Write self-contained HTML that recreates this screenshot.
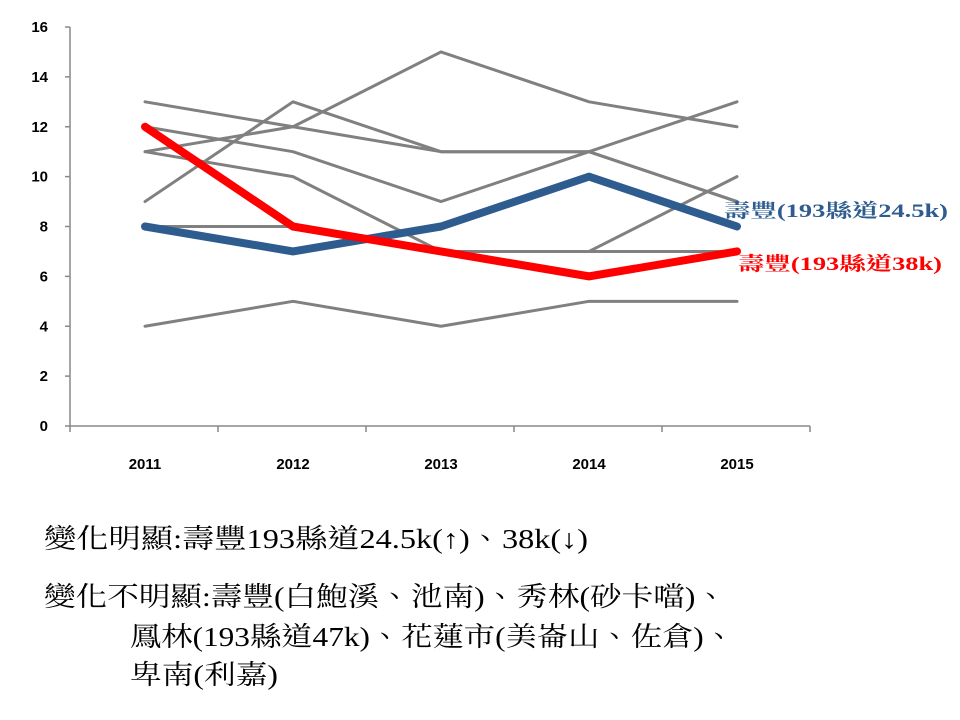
<!DOCTYPE html>
<html><head><meta charset="utf-8">
<style>
html,body{margin:0;padding:0;background:#fff;}
svg{display:block;}
.ser{font-family:"Liberation Serif","Noto Serif CJK TC","Noto Serif CJK SC",serif;}
.ax{font-family:"Liberation Sans",sans-serif;font-weight:bold;font-size:15px;fill:#000;}
</style></head>
<body>
<svg id="chart" width="960" height="720" viewBox="0 0 960 720">
<g id="axes"></g>
<g id="series"></g>
<text class="ser" x="724" y="217" font-size="19" font-weight="bold" fill="#2E5C8F" textLength="224" lengthAdjust="spacingAndGlyphs">壽豐(193縣道24.5k)</text>
<text class="ser" x="738" y="270" font-size="19" font-weight="bold" fill="#FF0000" textLength="204" lengthAdjust="spacingAndGlyphs">壽豐(193縣道38k)</text>
<text class="ser" x="44" y="548" font-size="27" fill="#000" textLength="544" lengthAdjust="spacingAndGlyphs">變化明顯:壽豐193縣道24.5k(↑)、38k(↓)</text>
<text class="ser" x="44" y="606" font-size="27" fill="#000" textLength="683" lengthAdjust="spacingAndGlyphs">變化不明顯:壽豐(白鮑溪、池南)、秀林(砂卡噹)、</text>
<text class="ser" x="130" y="646" font-size="27" fill="#000" textLength="605" lengthAdjust="spacingAndGlyphs">鳳林(193縣道47k)、花蓮市(美崙山、佐倉)、</text>
<text class="ser" x="130" y="684" font-size="27" fill="#000" textLength="148" lengthAdjust="spacingAndGlyphs">卑南(利嘉)</text>
</svg>
<script>
const categories = ["2011","2012","2013","2014","2015"];
const yTicks = [0,2,4,6,8,10,12,14,16];
const grayA = [9,13,11,11,9];
const grayB = [13,12,11,11,13];
const grayC = [11,12,15,13,12];
const grayD = [12,11,9,11,9];
const grayE = [11,10,7,7,10];
const grayF = [8,8,7,7,7];
const grayG = [4,5,4,5,5];
const blueSeries = [8,7,8,10,8];
const redSeries = [12,8,7,6,7];

const NS = "http://www.w3.org/2000/svg";
const y0 = 426, y16 = 27, xLeft = 70, band = 148;
function yScale(v){ return y0 - (v/16)*(y0-y16); }
function xScale(i){ return xLeft + band*i + band/2 + 1; }
function mk(tag, attrs, parent){
  const e = document.createElementNS(NS, tag);
  for (const k in attrs) e.setAttribute(k, attrs[k]);
  parent.appendChild(e); return e;
}
const axes = document.getElementById("axes");
const yAxis = mk("line",{x1:xLeft,y1:y16,x2:xLeft,y2:y0,stroke:"#888","stroke-width":1.5},axes);


const xAxis = mk("line",{x1:xLeft,y1:y0,x2:xLeft+band*5,y2:y0,stroke:"#888","stroke-width":1.5},axes);


yTicks.forEach(v=>{
  const y = yScale(v);
  const t = mk("line",{x1:xLeft-5,y1:y,x2:xLeft,y2:y,stroke:"#888","stroke-width":1.5},axes);
  
  
  const l = mk("text",{x:xLeft-22,y:y+5,"text-anchor":"end",class:"ax"},axes);
  l.textContent = v;
  
  
});
for (let i=0;i<=categories.length;i++){
  const x = xLeft + band*i;
  const t = mk("line",{x1:x,y1:y0,x2:x,y2:y0+6,stroke:"#888","stroke-width":1.5},axes);
  
  
}
categories.forEach((c,i)=>{
  const l = mk("text",{x:xScale(i),y:469,"text-anchor":"middle",class:"ax"},axes);
  l.textContent = c;
  
  
});
const sg = document.getElementById("series");
function drawLine(vals, color, w, name){
  const pts = vals.map((v,i)=>xScale(i)+","+yScale(v)).join(" ");
  const p = mk("polyline",{points:pts,fill:"none",stroke:color,"stroke-width":w,"stroke-linejoin":"round","stroke-linecap":"round"},sg);
  
  
}
drawLine(grayA,"#808080",3,"gray-line-a");
drawLine(grayB,"#808080",3,"gray-line-b");
drawLine(grayC,"#808080",3,"gray-line-c");
drawLine(grayD,"#808080",3,"gray-line-d");
drawLine(grayE,"#808080",3,"gray-line-e");
drawLine(grayF,"#808080",3,"gray-line-f");
drawLine(grayG,"#808080",3,"gray-line-g");
drawLine(blueSeries,"#2E5C8F",8,"blue-line-193-24.5k");
drawLine(redSeries,"#FF0000",8,"red-line-193-38k");
</script>
</body></html>
